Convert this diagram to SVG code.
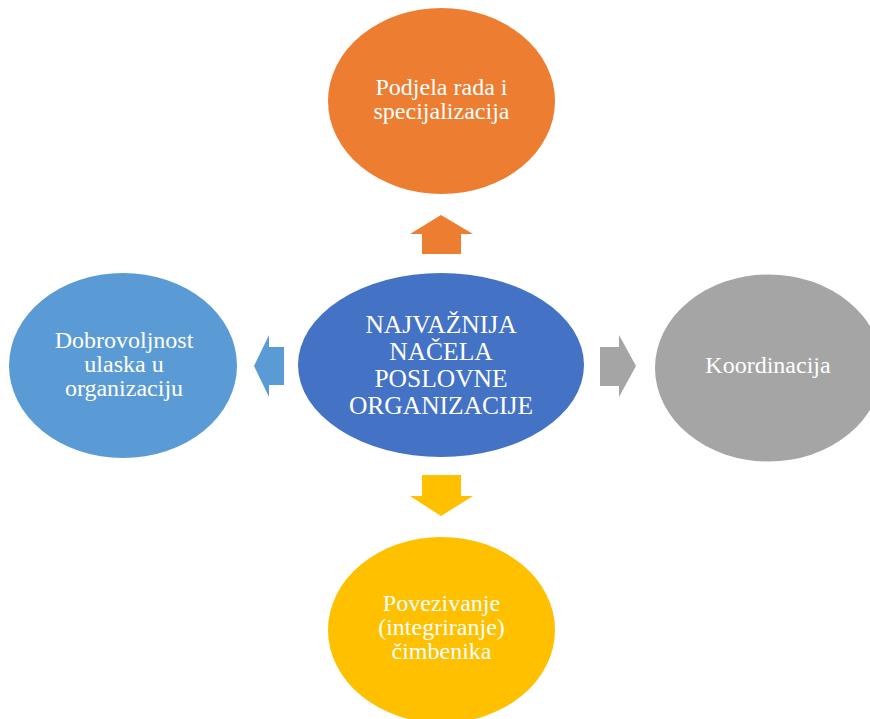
<svg xmlns="http://www.w3.org/2000/svg" width="870" height="719" viewBox="0 0 870 719">
<style>
.t{font-family:"Liberation Serif","Times New Roman",serif;fill:#FFFFFF;text-anchor:middle;font-size:24px}
.c{font-size:25.5px}
</style>
<rect width="870" height="719" fill="#FFFFFF"/>
<g id="connectors">
<polygon points="441,215 473,234 461,234 461,254 422,254 422,234 410,234" fill="#ED7D31"/>
<polygon points="441,516 473,496 461,496 461,475 422,475 422,496 410,496" fill="#FFC000"/>
<polygon points="254,366 269,335 269,347 284,347 284,385 269,385 269,397" fill="#5B9BD5"/>
<polygon points="636,366 619,335 619,347 600,347 600,386 619,386 619,397" fill="#A5A5A5"/>
</g>
<g id="center">
<ellipse cx="441" cy="365" rx="143" ry="92" fill="#4472C4"/>
<text class="t c" x="441" y="333">NAJVAŽNIJA</text>
<text class="t c" x="441" y="360">NAČELA</text>
<text class="t c" x="441" y="387">POSLOVNE</text>
<text class="t c" x="441" y="414">ORGANIZACIJE</text>
</g>
<g id="top">
<ellipse cx="441.5" cy="101" rx="113.5" ry="93" fill="#ED7D31"/>
<text class="t" x="441.5" y="95">Podjela rada i</text>
<text class="t" x="441.5" y="119">specijalizacija</text>
</g>
<g id="left">
<ellipse cx="123" cy="365.5" rx="114" ry="92.5" fill="#5B9BD5"/>
<text class="t" x="124" y="348">Dobrovoljnost</text>
<text class="t" x="124" y="372">ulaska u</text>
<text class="t" x="124" y="396">organizaciju</text>
</g>
<g id="right">
<ellipse cx="768.5" cy="368" rx="113.5" ry="93.5" fill="#A5A5A5"/>
<text class="t" x="768" y="373">Koordinacija</text>
</g>
<g id="bottom">
<ellipse cx="441.5" cy="630" rx="113.5" ry="93" fill="#FFC000"/>
<text class="t" x="441.5" y="611">Povezivanje</text>
<text class="t" x="441.5" y="635">(integriranje)</text>
<text class="t" x="441.5" y="659">čimbenika</text>
</g>
</svg>
